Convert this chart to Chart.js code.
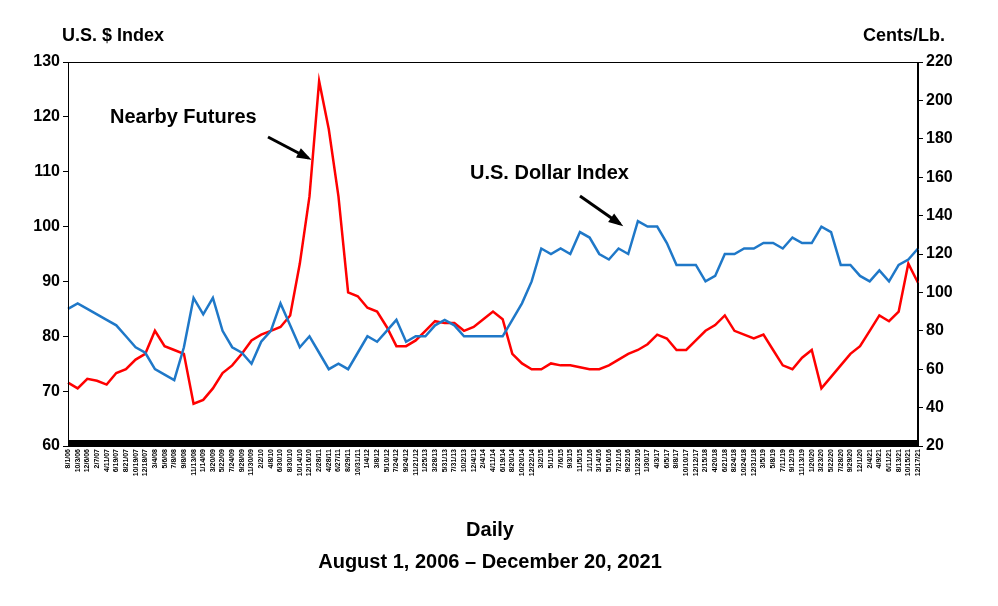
<!DOCTYPE html>
<html>
<head>
<meta charset="utf-8">
<script src="https://cdn.jsdelivr.net/npm/chart.js@4"></script>
<style>
  body { margin: 0; background: #fff; }
  #wrap { width: 998px; height: 606px; position: relative; }
</style>
</head>
<body>
<div id="wrap"><canvas id="chart" width="998" height="606"></canvas></div>
<script>
// ===== Data =====
const dates = ["8/1/06","10/3/06","12/6/06","2/7/07","4/11/07","6/19/07","8/21/07","10/19/07","12/18/07",
  "3/4/08","5/6/08","7/8/08","9/8/08","11/13/08","1/14/09","3/20/09","5/22/09","7/24/09","9/28/09","11/30/09",
  "2/2/10","4/8/10","6/30/10","8/30/10","10/14/10","12/16/10","2/28/11","4/28/11","6/27/11","8/29/11","10/31/11",
  "1/4/12","3/8/12","5/10/12","7/24/12","9/24/12","11/21/12","1/25/13","3/28/13","5/31/13","7/31/13","10/2/13","12/4/13",
  "2/4/14","4/11/14","6/19/14","8/20/14","10/20/14","12/22/14","3/2/15","5/1/15","7/6/15","9/3/15","11/5/15",
  "1/11/16","3/14/16","5/16/16","7/21/16","9/22/16","11/23/16","1/30/17","4/3/17","6/5/17","8/8/17","10/10/17","12/12/17",
  "2/15/18","4/20/18","6/21/18","8/24/18","10/24/18","12/31/18","3/5/19","5/8/19","7/11/19","9/12/19","11/13/19",
  "1/20/20","3/23/20","5/22/20","7/28/20","9/29/20","12/1/20","2/4/21","4/9/21","6/11/21","8/13/21","10/15/21","12/17/21"];

const dollarIndex = [85,86,85,84,83,82,80,78,77,
  74,73,72,78,87,84,87,81,78,77,75,
  79,81,86,82,78,80,77,74,75,74,77,
  80,79,81,83,79,80,80,82,83,82,80,80,
  80,80,80,83,86,90,96,95,96,95,99,
  98,95,94,96,95,101,100,100,97,93,93,93,
  90,91,95,95,96,96,97,97,96,98,97,
  97,100,99,93,93,91,90,92,90,93,94,96];

const nearbyFutures = [53,50,55,54,52,58,60,65,68,
  80,72,70,68,42,44,50,58,62,68,75,
  78,80,82,88,115,150,210,185,150,100,98,
  92,90,82,72,72,75,80,85,84,84,80,82,
  86,90,86,68,63,60,60,63,62,62,61,
  60,60,62,65,68,70,73,78,76,70,70,75,
  80,83,88,80,78,76,78,70,62,60,66,
  70,50,56,62,68,72,80,88,85,90,115,105];

const leftTicks = [60, 130, 10];
const rightTicks = [20, 220, 20];

// ===== Titles, annotations, frame, black base band =====
const decor = {
  id: "decor",
  afterDraw(chart) {
    const c = chart.ctx, a = chart.chartArea;
    c.save();
    c.strokeStyle = "#000"; c.lineWidth = 1;
    c.strokeRect(a.left + 0.5, a.top + 0.5, a.right - a.left - 1, a.bottom - a.top);
    c.fillStyle = "#000";
    c.fillRect(a.left, a.bottom - 6, a.right - a.left, 7);
    c.font = "bold 18px Arial, 'Liberation Sans'";
    c.textBaseline = "middle";
    c.textAlign = "left";
    c.fillText("U.S. $ Index", 62, 36);
    c.textAlign = "right";
    c.fillText("Cents/Lb.", 945, 36);
    c.font = "bold 20px Arial, 'Liberation Sans'";
    c.textAlign = "left";
    c.fillText("Nearby Futures", 110, 117);
    c.fillText("U.S. Dollar Index", 470, 173);
    c.textAlign = "center";
    c.fillText("Daily", 490, 530);
    c.fillText("August 1, 2006 \u2013 December 20, 2021", 490, 562);
    arrow(c, 268, 137, 308, 158);
    arrow(c, 580, 196, 620, 224);
    c.restore();
  }
};
function arrow(c, x1, y1, x2, y2) {
  c.strokeStyle = "#000"; c.fillStyle = "#000"; c.lineWidth = 3;
  c.beginPath(); c.moveTo(x1, y1); c.lineTo(x2, y2); c.stroke();
  const ang = Math.atan2(y2 - y1, x2 - x1);
  c.beginPath();
  c.moveTo(x2 + 4 * Math.cos(ang), y2 + 4 * Math.sin(ang));
  c.lineTo(x2 - 12 * Math.cos(ang - 0.45), y2 - 12 * Math.sin(ang - 0.45));
  c.lineTo(x2 - 12 * Math.cos(ang + 0.45), y2 - 12 * Math.sin(ang + 0.45));
  c.closePath(); c.fill();
}

const tickFont = { family: "Arial, 'Liberation Sans'", size: 16, weight: "bold" };

new Chart(document.getElementById("chart"), {
  type: "line",
  data: {
    labels: dates,
    datasets: [
      { label: "U.S. Dollar Index", data: dollarIndex, yAxisID: "y", borderColor: "#1f78c8", borderWidth: 2.5, pointRadius: 0, tension: 0 },
      { label: "Nearby Futures", data: nearbyFutures, yAxisID: "y1", borderColor: "#ff0000", borderWidth: 2.5, pointRadius: 0, tension: 0 }
    ]
  },
  options: {
    responsive: false,
    animation: false,
    layout: { padding: { top: 62, left: 0, right: 0, bottom: 0 } },
    plugins: { legend: { display: false }, tooltip: { enabled: false } },
    scales: {
      x: {
        offset: false,
        afterFit(s) { s.height = 160; },
        grid: { display: false, drawTicks: false },
        border: { color: "#000", width: 1 },
        ticks: { autoSkip: false, maxRotation: 90, minRotation: 90, color: "#000",
          font: { family: "Arial, 'Liberation Sans'", size: 7, weight: "bold" }, padding: 3 }
      },
      y: {
        position: "left", min: leftTicks[0], max: leftTicks[1],
        afterFit(s) { s.width = 68; },
        grid: { drawOnChartArea: false, drawTicks: true, tickLength: 5, color: "#000" },
        border: { color: "#000", width: 1 },
        ticks: { stepSize: leftTicks[2], color: "#000", font: tickFont }
      },
      y1: {
        position: "right", min: rightTicks[0], max: rightTicks[1],
        afterFit(s) { s.width = 80; },
        grid: { drawOnChartArea: false, tickLength: 5, color: "#000" },
        border: { color: "#000", width: 1 },
        ticks: { stepSize: rightTicks[2], color: "#000", font: tickFont }
      }
    }
  },
  plugins: [decor]
});
</script>
</body>
</html>
